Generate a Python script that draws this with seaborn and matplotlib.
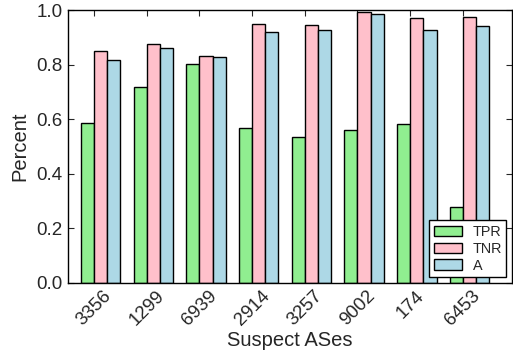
import matplotlib
matplotlib.use("Agg")
import matplotlib.pyplot as plt
import seaborn as sns
import pandas as pd
import numpy as np

ases = ["3356", "1299", "6939", "2914", "3257", "9002", "174", "6453"]
tpr = [0.586, 0.717, 0.802, 0.567, 0.534, 0.562, 0.584, 0.277]
tnr = [0.851, 0.878, 0.833, 0.949, 0.947, 0.994, 0.973, 0.977]
acc = [0.819, 0.862, 0.829, 0.922, 0.928, 0.988, 0.928, 0.942]
metrics = ["TPR", "TNR", "A"]
colors = ["#90EE90", "#FFC0CB", "#ADD8E6"]

rows = []
for name, vals in zip(metrics, [tpr, tnr, acc]):
    for a, v in zip(ases, vals):
        rows.append({"AS": a, "Metric": name, "Percent": v})
df = pd.DataFrame(rows)

sns.set_style("ticks")
plt.rcParams["font.family"] = ["Liberation Sans", "DejaVu Sans"]

fig = plt.figure(figsize=(5.13, 3.51), dpi=100)
ax = fig.add_axes([67.7 / 513, 1 - 282.7 / 351, (512 - 67.7) / 513, (282.7 - 10.3) / 351])

sns.barplot(data=df, x="AS", y="Percent", hue="Metric", hue_order=metrics,
            order=ases, palette=colors, width=0.75, edgecolor="black",
            linewidth=1.0, saturation=1, ax=ax, errorbar=None)

ax.set_ylim(0, 1.0)
ax.set_xlim(-0.624, 7.807)
ax.set_yticks([0.0, 0.2, 0.4, 0.6, 0.8, 1.0])
ax.set_yticklabels(["0.0", "0.2", "0.4", "0.6", "0.8", "1.0"], fontsize=13.5)
ax.set_xticks(np.arange(len(ases)) - 0.125)
ax.set_xticklabels(ases, rotation=45, ha="center", fontsize=13.5)
ax.tick_params(direction="in", length=4, width=0.8, top=True, right=True, pad=3.5)
for s in ax.spines.values():
    s.set_visible(True)
    s.set_linewidth(1.0)
    s.set_color("black")
ax.set_xlabel("Suspect ASes", fontsize=14.5, labelpad=1)
ax.set_ylabel("Percent", fontsize=14.5, labelpad=5)

leg = ax.legend(loc="lower right", fontsize=10.4, fancybox=False, frameon=True,
                edgecolor="black", framealpha=1, borderaxespad=0.4,
                handlelength=1.95, handletextpad=0.75, labelspacing=0.2,
                borderpad=0.3)
leg.get_frame().set_linewidth(1.0)

fig.savefig("out.png", dpi=100)
